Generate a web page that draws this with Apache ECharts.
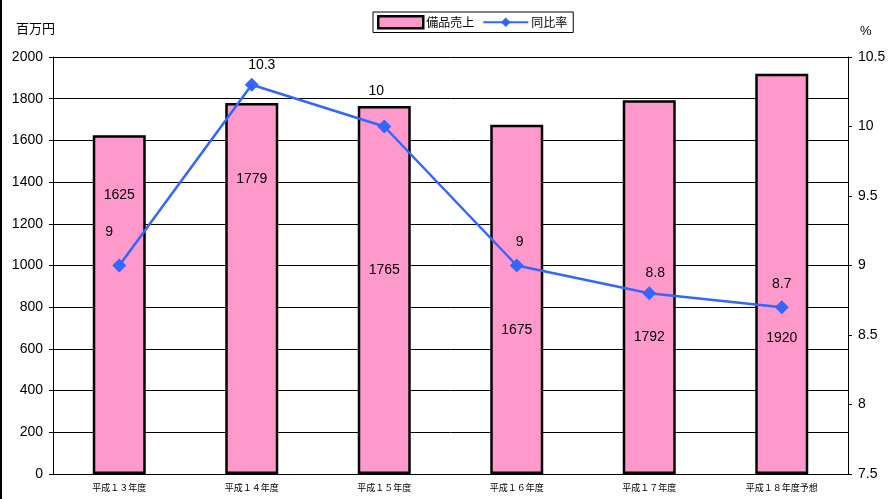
<!DOCTYPE html>
<html>
<head>
<meta charset="utf-8">
<script src="https://cdn.jsdelivr.net/npm/echarts@6/dist/echarts.min.js"></script>
<style>
html,body{margin:0;padding:0;background:#fff;}
#c{width:894px;height:499px;}
</style>
</head>
<body>
<div id="c"></div>
<script>
var categories = ['平成１３年度','平成１４年度','平成１５年度','平成１６年度','平成１７年度','平成１８年度予想'];
var salesValues = [1625, 1779, 1765, 1675, 1792, 1920];
var rateValues = [9, 10.3, 10, 9, 8.8, 8.7];
var leftTicks = {min: 0, max: 2000, interval: 200};
var rightTicks = {min: 7.5, max: 10.5, interval: 0.5};

// label placement (style only)
var barLabelDy = [60, 76, 164, 205, 237, 264];
var lineLabelOffset = [[-10,-33],[10,-20],[-8,-35],[3,-23],[6,-20],[0,-23]];

var font = '"Liberation Sans", Arial, "Noto Sans CJK JP", sans-serif';
var chart = echarts.init(document.getElementById('c'));
chart.setOption({
  animation: false,
  backgroundColor: '#fff',
  textStyle: {fontFamily: font, color: '#000'},
  grid: {left: 53, right: 46, top: 57, bottom: 25},
  legend: {
    orient: 'horizontal',
    left: 373, top: 12,
    padding: [3, 6, 3, 4],
    itemGap: 8,
    itemWidth: 45, itemHeight: 12,
    borderColor: '#000', borderWidth: 1,
    backgroundColor: '#fff',
    textStyle: {fontSize: 12, color: '#000', fontFamily: '"Noto Sans CJK JP", sans-serif', padding: [0, 0, 0, -2]},
    data: [
      {name: '備品売上', icon: 'rect', itemStyle: {color: '#FF99CC', borderColor: '#000', borderWidth: 2.5}},
      {name: '同比率'}
    ]
  },
  xAxis: {
    type: 'category',
    data: categories,
    axisLine: {lineStyle: {color: '#000', width: 1}},
    axisTick: {inside: true, length: 4, lineStyle: {color: '#000'}},
    axisLabel: {fontSize: 9, color: '#000', margin: 9, fontFamily: '"Noto Sans CJK JP", sans-serif'}
  },
  yAxis: [
    {
      type: 'value', min: leftTicks.min, max: leftTicks.max, interval: leftTicks.interval,
      name: '百万円', nameLocation: 'end', nameGap: 22,
      nameTextStyle: {fontSize: 13, color: '#000', align: 'right', padding: [0, -2, 0, 0], fontFamily: '"Noto Sans CJK JP", sans-serif'},
      axisLine: {show: true, lineStyle: {color: '#000', width: 1}},
      axisTick: {show: true, length: 4, lineStyle: {color: '#000'}},
      axisLabel: {fontSize: 14, color: '#000', margin: 10, formatter: function (v) { return String(v); }},
      splitLine: {lineStyle: {color: '#000', width: 1}}
    },
    {
      type: 'value', min: rightTicks.min, max: rightTicks.max, interval: rightTicks.interval,
      name: '%', nameLocation: 'end', nameGap: 19,
      nameTextStyle: {fontSize: 13, color: '#000', align: 'left', padding: [0, 0, 0, 12]},
      axisLine: {show: true, lineStyle: {color: '#000', width: 1}},
      axisTick: {show: true, length: 4, lineStyle: {color: '#000'}},
      axisLabel: {fontSize: 14, color: '#000', margin: 10, formatter: function (v) { return String(v); }},
      splitLine: {show: false}
    }
  ],
  series: [
    {
      name: '備品売上', type: 'bar', barWidth: 53,
      itemStyle: {color: '#FF99CC', borderColor: '#000', borderWidth: 2.5},
      data: salesValues.map(function (v, i) {
        return {value: v, label: {position: ['50%', barLabelDy[i]]}};
      }),
      label: {show: true, align: 'center', verticalAlign: 'middle', fontSize: 14, color: '#000', fontFamily: font},
      z: 2
    },
    {
      name: '同比率', type: 'line', yAxisIndex: 1,
      symbol: 'diamond', symbolSize: 14,
      lineStyle: {color: '#3366FF', width: 2.5},
      itemStyle: {color: '#3366FF'},
      data: rateValues.map(function (v, i) {
        return {value: v, label: {offset: lineLabelOffset[i]}};
      }),
      label: {show: true, position: 'inside', fontSize: 14, color: '#000', fontFamily: font},
      z: 5
    }
  ],
  graphic: [
    {type: 'rect', left: 0, top: 0, shape: {width: 2, height: 499}, style: {fill: '#000'}}
  ]
});
</script>
</body>
</html>
